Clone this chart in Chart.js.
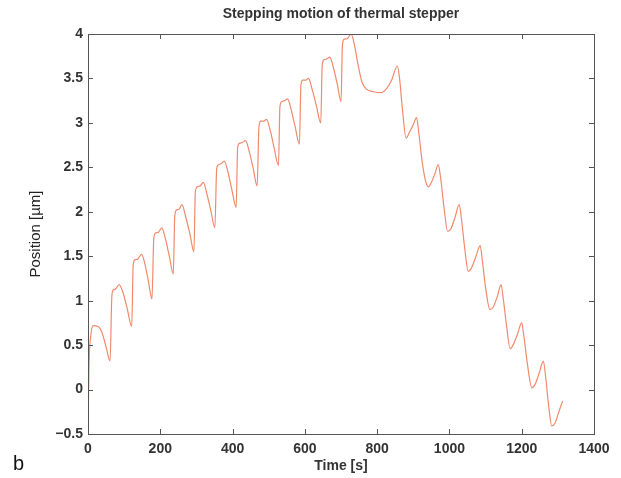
<!DOCTYPE html>
<html>
<head>
<meta charset="utf-8">
<script src="https://cdn.jsdelivr.net/npm/chart.js@4/dist/chart.umd.min.js"></script>
<style>
  html, body { margin: 0; padding: 0; background: #ffffff; }
  #wrap { width: 621px; height: 478px; position: relative; }
</style>
</head>
<body>
<div id="wrap"><canvas id="c" width="621" height="478"></canvas></div>
<script>
// ---- data ----
const timeS = [
  0, 3, 8, 15, 28, 38, 50, 61,
  66, 70, 76, 86, 96, 108, 121,
  125, 130, 138, 148, 157, 167, 177,
  182, 187, 195, 204, 214, 225, 236,
  240, 245, 252, 260, 270, 282, 293,
  297, 302, 310, 319, 329, 340, 351,
  356, 361, 368, 377, 387, 398, 410,
  414, 419, 427, 436, 446, 457, 468,
  473, 478, 486, 494, 504, 515, 527,
  531, 536, 544, 552, 562, 573, 585,
  589, 594, 602, 610, 620, 632, 644,
  648, 653, 661, 669, 679, 690, 700,
  704, 709, 718, 728, 737, 747, 758, 770, 790, 810, 825, 840, 856,
  862, 870, 880, 890, 900, 909,
  915, 925, 935, 942, 950, 960, 969,
  975, 985, 995, 1003, 1015, 1027,
  1033, 1042, 1052, 1060, 1072, 1085,
  1091, 1100, 1112, 1120, 1132, 1143,
  1149, 1158, 1168, 1176, 1188, 1200,
  1206, 1216, 1228, 1236, 1248, 1260,
  1266, 1275, 1283, 1292, 1302, 1313
];
const positionUm = [
  -0.45, 0.30, 0.62, 0.72, 0.71, 0.65, 0.48, 0.32,
  1.05, 1.12, 1.13, 1.18, 1.10, 0.92, 0.71,
  1.40, 1.46, 1.47, 1.52, 1.42, 1.22, 1.02,
  1.70, 1.76, 1.77, 1.82, 1.70, 1.50, 1.30,
  1.95, 2.02, 2.03, 2.08, 1.95, 1.75, 1.55,
  2.22, 2.28, 2.29, 2.33, 2.20, 2.01, 1.82,
  2.48, 2.53, 2.54, 2.57, 2.45, 2.25, 2.05,
  2.72, 2.77, 2.78, 2.80, 2.68, 2.49, 2.29,
  2.96, 3.02, 3.02, 3.04, 2.92, 2.72, 2.52,
  3.18, 3.24, 3.25, 3.27, 3.15, 2.96, 2.76,
  3.42, 3.48, 3.48, 3.50, 3.38, 3.19, 3.00,
  3.65, 3.71, 3.72, 3.74, 3.62, 3.43, 3.24,
  3.88, 3.94, 3.95, 4.00, 3.88, 3.66, 3.46, 3.38, 3.35, 3.34, 3.38, 3.48, 3.64,
  3.50, 3.15, 2.83, 2.90, 2.98, 3.06,
  2.90, 2.55, 2.33, 2.28, 2.33, 2.43, 2.53,
  2.40, 2.05, 1.78, 1.80, 1.93, 2.08,
  1.93, 1.60, 1.33, 1.36, 1.48, 1.62,
  1.45, 1.15, 0.90, 0.92, 1.04, 1.18,
  1.02, 0.72, 0.46, 0.50, 0.62, 0.75,
  0.60, 0.28, 0.02, 0.05, 0.18, 0.32,
  0.15, -0.20, -0.41, -0.38, -0.26, -0.13
];
const xTicks = [0, 200, 400, 600, 800, 1000, 1200, 1400];
const xTickLabels = ['0', '200', '400', '600', '800', '1000', '1200', '1400'];
const yTicks = [-0.5, 0, 0.5, 1, 1.5, 2, 2.5, 3, 3.5, 4];
const yTickLabels = ['\u22120.5', '0', '0.5', '1', '1.5', '2', '2.5', '3', '3.5', '4'];
const titleText = 'Stepping motion of thermal stepper';
const xTitle = 'Time [s]';
const yTitle = 'Position [\u00b5m]';
const panelLabel = 'b';

// ---- build chart ----
const points = timeS.map((t, i) => ({ x: t, y: positionUm[i] }));
const FONT = "'Liberation Sans', Arial, Helvetica, sans-serif";
const AXIS_COLOR = '#555555';

const frameAndTicks = {
  id: 'frameAndTicks',
  afterDatasetsDraw(chart) {
    const { ctx, chartArea: a, scales: { x, y } } = chart;
    ctx.save();
    ctx.strokeStyle = AXIS_COLOR;
    ctx.lineWidth = 1;
    ctx.beginPath();
    ctx.rect(Math.round(a.left) + 0.5, Math.round(a.top) + 0.5,
             Math.round(a.right - a.left), Math.round(a.bottom - a.top));
    ctx.stroke();
    const L = 5;
    ctx.beginPath();
    xTicks.forEach(v => {
      const px = Math.round(x.getPixelForValue(v)) + 0.5;
      ctx.moveTo(px, a.bottom); ctx.lineTo(px, a.bottom - L);
      ctx.moveTo(px, a.top); ctx.lineTo(px, a.top + L);
    });
    yTicks.forEach(v => {
      const py = Math.round(y.getPixelForValue(v)) + 0.5;
      ctx.moveTo(a.left, py); ctx.lineTo(a.left + L, py);
      ctx.moveTo(a.right, py); ctx.lineTo(a.right - L, py);
    });
    ctx.stroke();
    ctx.restore();
  },
  afterDraw(chart) {
    const ctx = chart.ctx;
    ctx.save();
    ctx.fillStyle = '#111111';
    ctx.font = "20px " + FONT;
    ctx.textAlign = 'left';
    ctx.textBaseline = 'alphabetic';
    ctx.fillText(panelLabel, 13, 470);
    ctx.restore();
  }
};

new Chart(document.getElementById('c'), {
  type: 'line',
  data: {
    datasets: [{
      data: points,
      borderColor: '#f08a6c',
      borderWidth: 1.2,
      pointRadius: 0,
      fill: false,
      cubicInterpolationMode: 'monotone',
      tension: 0.4
    }]
  },
  options: {
    responsive: false,
    animation: false,
    devicePixelRatio: 1,
    layout: { padding: { left: 0, right: 27, top: 0, bottom: 0 } },
    plugins: {
      legend: { display: false },
      tooltip: { enabled: false },
      title: {
        display: true,
        text: titleText,
        fullSize: false,
        color: '#333333',
        font: { family: FONT, size: 14, weight: 'bold' },
        padding: { top: 6, bottom: 11.2 }
      }
    },
    scales: {
      x: {
        type: 'linear',
        min: 0, max: 1400,
        afterBuildTicks(s) { s.ticks = xTicks.map(v => ({ value: v })); },
        afterFit(s) { s.height = 44; },
        grid: { display: false, drawTicks: false, tickLength: 0 },
        border: { display: true, color: AXIS_COLOR, width: 1 },
        ticks: {
          padding: 6.5,
          maxRotation: 0,
          autoSkip: false,
          color: '#333333',
          font: { family: FONT, size: 14, weight: 'bold' },
          callback: (v) => { const i = xTicks.indexOf(v); return i >= 0 ? xTickLabels[i] : ''; }
        },
        title: {
          display: true,
          text: xTitle,
          color: '#333333',
          font: { family: FONT, size: 14, weight: 'bold' },
          padding: { top: 0, bottom: 3.6 }
        }
      },
      y: {
        type: 'linear',
        min: -0.5, max: 4,
        afterBuildTicks(s) { s.ticks = yTicks.map(v => ({ value: v })); },
        afterFit(s) { s.width = 88; },
        grid: { display: false, drawTicks: false, tickLength: 0 },
        border: { display: true, color: AXIS_COLOR, width: 1 },
        ticks: {
          padding: 5,
          autoSkip: false,
          color: '#333333',
          font: { family: FONT, size: 14, weight: 'bold' },
          callback: (v) => { const i = yTicks.indexOf(v); return i >= 0 ? yTickLabels[i] : ''; }
        },
        title: {
          display: true,
          text: yTitle,
          color: '#222222',
          font: { family: FONT, size: 15, weight: 'normal' },
          padding: { top: 27, bottom: 0 }
        }
      }
    }
  },
  plugins: [frameAndTicks]
});
</script>
</body>
</html>
